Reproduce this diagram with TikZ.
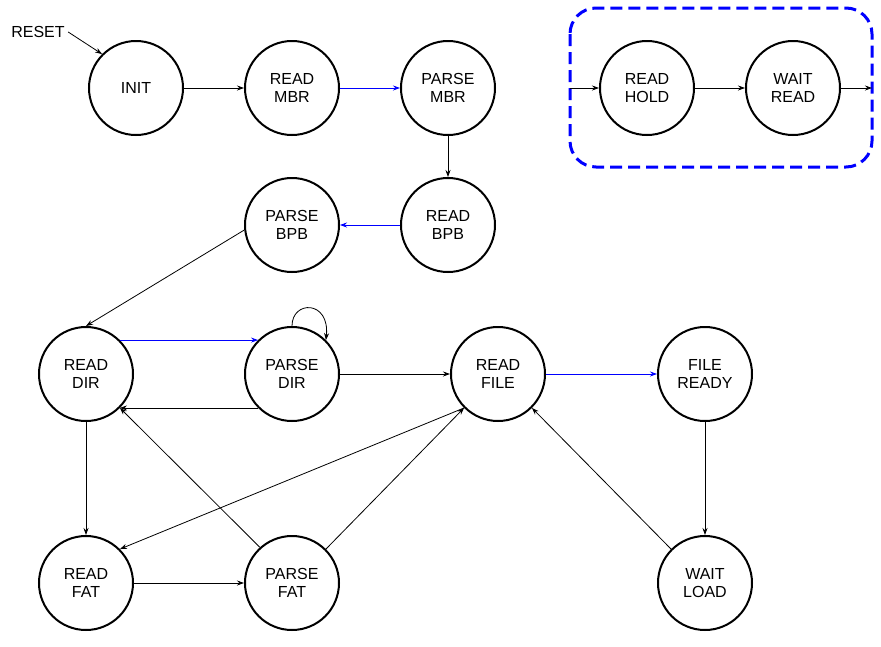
\documentclass[tikz,border=0pt]{standalone}
\usepackage{fontspec}
\setmainfont{Liberation Sans}
\usetikzlibrary{arrows.meta}

\begin{document}
\begin{tikzpicture}[x=1pt,y=-1pt,
  state/.style={circle,draw,line width=2pt,minimum size=94pt,inner sep=0pt,
    align=center,font=\fontsize{16}{18}\selectfont},
  link/.style={line width=0.8pt,-{Stealth[length=7pt,width=5pt]}},
  bluelink/.style={link,blue}]
  \useasboundingbox (0,0) rectangle (881,646);
  % states
  \node[state] (init)  at (136,88)  {INIT};
  \node[state] (rmbr)  at (292,88)  {READ\\MBR};
  \node[state] (pmbr)  at (448,88)  {PARSE\\MBR};
  \node[state] (rbpb)  at (448,225) {READ\\BPB};
  \node[state] (pbpb)  at (292,225) {PARSE\\BPB};
  \node[state] (rdir)  at (86,374)  {READ\\DIR};
  \node[state] (pdir)  at (292,374) {PARSE\\DIR};
  \node[state] (rfile) at (498,374) {READ\\FILE};
  \node[state] (fready) at (705,374) {FILE\\READY};
  \node[state] (rfat)  at (86,583)  {READ\\FAT};
  \node[state] (pfat)  at (292,583) {PARSE\\FAT};
  \node[state] (wload) at (705,583) {WAIT\\LOAD};
  % read sequence
  \draw[blue,line width=3pt,dash pattern=on 12pt off 6pt,rounded corners=26pt]
    (570,8) rectangle (872,167);
  \node[state] (rhold) at (647,88) {READ\\HOLD};
  \node[state] (wread) at (793,88) {WAIT\\READ};
  \coordinate (seqin) at (570,88);
  \coordinate (seqout) at (872,88);
  \node[font=\fontsize{16}{18}\selectfont] (reset) at (38,32) {RESET};
  % transitions
  \draw[link] (reset.east) -- (init.135);
  \draw[link] (init) -- (rmbr);
  \draw[bluelink] (rmbr) -- (pmbr);
  \draw[link] (pmbr) -- (rbpb);
  \draw[bluelink] (rbpb) -- (pbpb);
  \draw[link] (pbpb.186) -- (rdir.north);
  \draw[bluelink] (rdir.45) -- (pdir.135);
  \draw[link] (pdir.225) -- (rdir.-45);
  \draw[link] (pdir.90) .. controls (292,300) and (330,300) .. (pdir.45);
  \draw[link] (pdir) -- (rfile);
  \draw[bluelink] (rfile) -- (fready);
  \draw[link] (fready) -- (wload);
  \draw[link] (wload.135) -- (rfile.-45);
  \draw[link] (rdir) -- (rfat);
  \draw[link] (rfat) -- (pfat);
  \draw[link] (pfat.132) -- (rdir.-45);
  \draw[link] (pfat.45) -- (rfile.225);
  \draw[link] (rfile.225) -- (rfat.45);
  \draw[link] (seqin) -- (rhold);
  \draw[link] (rhold) -- (wread);
  \draw[link] (wread) -- (seqout);
\end{tikzpicture}
\end{document}
